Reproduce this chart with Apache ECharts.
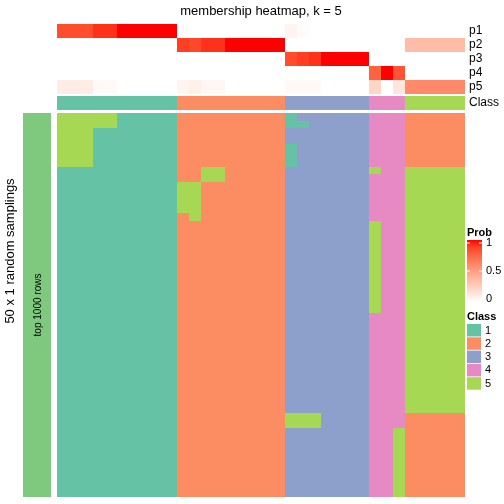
<!DOCTYPE html>
<html><head><meta charset="utf-8">
<script src="https://cdn.jsdelivr.net/npm/echarts@6/dist/echarts.min.js"></script>
<style>html,body{margin:0;padding:0;background:#fff}#c{width:504px;height:504px}</style>
</head><body><div id="c"></div>
<script>
// ---------- data ----------
const samples = Array.from({length: 34}, (_, i) => 's' + (i + 1));
const probNames = ['p1', 'p2', 'p3', 'p4', 'p5'];
const p1 = [0.85,0.85,0.85,0.93,0.93,1,1,1,1,1, 0,0,0,0,0,0,0,0,0, 0.06,0.02,0,0,0,0,0, 0,0,0, 0,0,0,0,0];
const p2 = [0,0,0,0,0,0,0,0,0,0, 0.9,0.87,0.93,0.93,1,1,1,1,1, 0,0,0,0,0,0,0, 0,0,0, 0.35,0.35,0.35,0.35,0.35];
const p3 = [0,0,0,0,0,0,0,0,0,0, 0,0,0,0,0,0,0,0,0, 0.85,0.9,0.93,1,1,1,1, 0,0,0, 0,0,0,0,0];
const p4 = [0,0,0,0,0,0,0,0,0,0, 0,0,0,0,0,0,0,0,0, 0,0,0,0,0,0,0, 0.77,1,0.83, 0,0,0,0,0];
const p5 = [0.1,0.1,0.1,0.03,0.03,0,0,0,0,0, 0.06,0.08,0.04,0.04,0,0,0,0,0, 0.03,0.03,0.03,0,0,0,0, 0.22,0,0.13, 0.6,0.6,0.6,0.6,0.6];
const sampleClass = [1,1,1,1,1,1,1,1,1,1, 2,2,2,2,2,2,2,2,2, 3,3,3,3,3,3,3, 4,4,4, 5,5,5,5,5];
// one string per random sampling (row), one digit per sample (column) = class assigned
const samplingRows = [
  '5555511111222222222133333344422222',
  '5555511111222222222113333344422222',
  '5551111111222222222333333344422222',
  '5551111111222222222333333344422222',
  '5551111111222222222133333344422222',
  '5551111111222222222133333344422222',
  '5551111111222222222133333344422222',
  '1111111111225522222333333354455555',
  '1111111111225522222333333344455555',
  '1111111111552222222333333344455555',
  '1111111111552222222333333344455555',
  '1111111111552222222333333344455555',
  '1111111111552222222333333344455555',
  '1111111111252222222333333344455555',
  '1111111111222222222333333354455555',
  '1111111111222222222333333354455555',
  '1111111111222222222333333354455555',
  '1111111111222222222333333354455555',
  '1111111111222222222333333354455555',
  '1111111111222222222333333354455555',
  '1111111111222222222333333354455555',
  '1111111111222222222333333354455555',
  '1111111111222222222333333354455555',
  '1111111111222222222333333354455555',
  '1111111111222222222333333354455555',
  '1111111111222222222333333354455555',
  '1111111111222222222333333344455555',
  '1111111111222222222333333344455555',
  '1111111111222222222333333344455555',
  '1111111111222222222333333344455555',
  '1111111111222222222333333344455555',
  '1111111111222222222333333344455555',
  '1111111111222222222333333344455555',
  '1111111111222222222333333344455555',
  '1111111111222222222333333344455555',
  '1111111111222222222333333344455555',
  '1111111111222222222333333344455555',
  '1111111111222222222333333344455555',
  '1111111111222222222333333344455555',
  '1111111111222222222555333344422222',
  '1111111111222222222555333344422222',
  '1111111111222222222333333344522222',
  '1111111111222222222333333344522222',
  '1111111111222222222333333344522222',
  '1111111111222222222333333344522222',
  '1111111111222222222333333344522222',
  '1111111111222222222333333344522222',
  '1111111111222222222333333344522222',
  '1111111111222222222333333344522222',
  '1111111111222222222333333344522222'
];
const classLabels = ['1', '2', '3', '4', '5'];
const classColors = ['#66C2A5', '#FC8D62', '#8DA0CB', '#E78AC3', '#A6D854'];
const probTicks = [1, 0.5, 0];
const rowAnnoLabel = 'top 1000 rows';
const rowAnnoColor = '#7FC97F';
const samplingNames = Array.from({length: samplingRows.length}, (_, i) => 'r' + (i + 1));

// ---------- colour helpers ----------
function labRamp(t) { // white -> red in CIELAB
  t = Math.max(0, Math.min(1, t));
  const L = 100 - 46.76 * t, a = 80.09 * t, b = 67.2 * t;
  const fy = (L + 16) / 116, fx = fy + a / 500, fz = fy - b / 200;
  const f3 = v => v * v * v > 0.008856 ? v * v * v : (v - 16 / 116) / 7.787;
  const X = 0.95047 * f3(fx), Y = f3(fy), Z = 1.08883 * f3(fz);
  let r = 3.2406 * X - 1.5372 * Y - 0.4986 * Z;
  let g = -0.9689 * X + 1.8758 * Y + 0.0415 * Z;
  let bl = 0.0557 * X - 0.2040 * Y + 1.0570 * Z;
  const gam = v => { v = Math.max(0, Math.min(1, v)); return Math.round(255 * (v <= 0.0031308 ? 12.92 * v : 1.055 * Math.pow(v, 1 / 2.4) - 0.055)); };
  return 'rgb(' + gam(r) + ',' + gam(g) + ',' + gam(bl) + ')';
}
const classColor = v => classColors[v - 1];

// ---------- build series data ----------
const probArrays = [p1, p2, p3, p4, p5];
const probData = [];
probArrays.forEach((arr, r) => arr.forEach((v, c) => probData.push([c, r, v])));
const classData = sampleClass.map((v, c) => [c, 0, v]);
const mainData = [];
samplingRows.forEach((row, r) => row.split('').forEach((ch, c) => mainData.push([c, r, +ch])));

function cellRenderer(colorFn) {
  return function (params, api) {
    const c = api.coord([api.value(0), api.value(1)]);
    const s = api.size([1, 1]);
    const x0 = Math.round(c[0] - s[0] / 2), x1 = Math.round(c[0] + s[0] / 2);
    const y0 = Math.round(c[1] - s[1] / 2), y1 = Math.round(c[1] + s[1] / 2);
    return {
      type: 'rect',
      shape: {x: x0, y: y0, width: x1 - x0, height: y1 - y0},
      style: {fill: colorFn(api.value(2)), stroke: null}
    };
  };
}

const FONT = 'Liberation Sans, Arial, sans-serif';
const L = 57, W = 408;
const grids = [
  {left: L, top: 24, width: W, height: 70},   // prob
  {left: L, top: 96, width: W, height: 14},   // class
  {left: L, top: 113, width: W, height: 384}, // main
  {left: 23, top: 113, width: 28, height: 384} // row annotation
];
const hiddenCat = (data, gi, extra) => Object.assign({
  type: 'category', data: data, gridIndex: gi, show: false, boundaryGap: true
}, extra || {});
const rightLabels = (data, gi) => ({
  type: 'category', data: data, gridIndex: gi, inverse: true, position: 'right',
  axisLine: {show: false}, axisTick: {show: false}, splitLine: {show: false},
  axisLabel: {interval: 0, color: '#000', fontSize: 12, fontFamily: FONT, margin: 4}
});

const option = {
  animation: false,
  backgroundColor: '#ffffff',
  grid: grids,
  xAxis: [
    hiddenCat(samples, 0), hiddenCat(samples, 1), hiddenCat(samples, 2), hiddenCat(['a'], 3)
  ],
  yAxis: [
    rightLabels(probNames, 0),
    rightLabels(['Class'], 1),
    hiddenCat(samplingNames, 2, {inverse: true}),
    hiddenCat(['a'], 3)
  ],
  series: [
    {type: 'custom', xAxisIndex: 0, yAxisIndex: 0, data: probData, encode: {x: 0, y: 1},
     renderItem: cellRenderer(labRamp), silent: true},
    {type: 'custom', xAxisIndex: 1, yAxisIndex: 1, data: classData, encode: {x: 0, y: 1},
     renderItem: cellRenderer(classColor), silent: true},
    {type: 'custom', xAxisIndex: 2, yAxisIndex: 2, data: mainData, encode: {x: 0, y: 1},
     renderItem: cellRenderer(classColor), silent: true},
    {type: 'custom', xAxisIndex: 3, yAxisIndex: 3, data: [[0, 0, 1]], encode: {x: 0, y: 1},
     renderItem: cellRenderer(() => rowAnnoColor), silent: true}
  ],
  graphic: []
};

const G = option.graphic;
const T = (x, y, text, font, extra) => Object.assign({type: 'text', x: x, y: y, z: 100, zlevel: 1,
  style: {text: text, font: font, fill: '#000', textVerticalAlign: 'middle'}}, extra || {});
G.push(T(261, 11, 'membership heatmap, k = 5', '13px ' + FONT));
G[G.length - 1].style.textAlign = 'center';
G.push(T(10, 251, '50 x 1 random samplings', '13px ' + FONT, {rotation: Math.PI / 2}));
G[G.length - 1].style.textAlign = 'center';
G.push(T(38, 305, rowAnnoLabel, '10px ' + FONT, {rotation: Math.PI / 2}));
G[G.length - 1].style.textAlign = 'center';

// Prob legend
const lx = 467, barTop = 240, barH = 62, barW = 15;
G.push(T(lx, 233, 'Prob', 'bold 11px ' + FONT));
const stops = [];
for (let i = 0; i <= 10; i++) stops.push({offset: i / 10, color: labRamp(1 - i / 10)});
G.push({type: 'rect', zlevel: 1, shape: {x: lx, y: barTop, width: barW, height: barH},
  style: {fill: {type: 'linear', x: 0, y: 0, x2: 0, y2: 1, colorStops: stops}}});
probTicks.forEach(v => {
  const y = barTop + 3 + (1 - v) * (barH - 6);
  G.push({type: 'line', zlevel: 1, z: 101, shape: {x1: lx, y1: y, x2: lx + 3, y2: y}, style: {stroke: '#fff', lineWidth: 1}});
  G.push({type: 'line', zlevel: 1, z: 101, shape: {x1: lx + barW - 3, y1: y, x2: lx + barW, y2: y}, style: {stroke: '#fff', lineWidth: 1}});
  G.push(T(lx + barW + 4, y, String(v), '11px ' + FONT));
});
// Class legend
G.push(T(lx, 317, 'Class', 'bold 11px ' + FONT));
classLabels.forEach((lab, i) => {
  const y = 324 + i * 13.3;
  G.push({type: 'rect', zlevel: 1, shape: {x: lx, y: y, width: 14, height: 12.5}, style: {fill: classColors[i]}});
  G.push(T(lx + 18, y + 6.5, lab, '11px ' + FONT));
});

const chart = echarts.init(document.getElementById('c'), null, {renderer: 'canvas'});
chart.setOption(option);
</script></body></html>
